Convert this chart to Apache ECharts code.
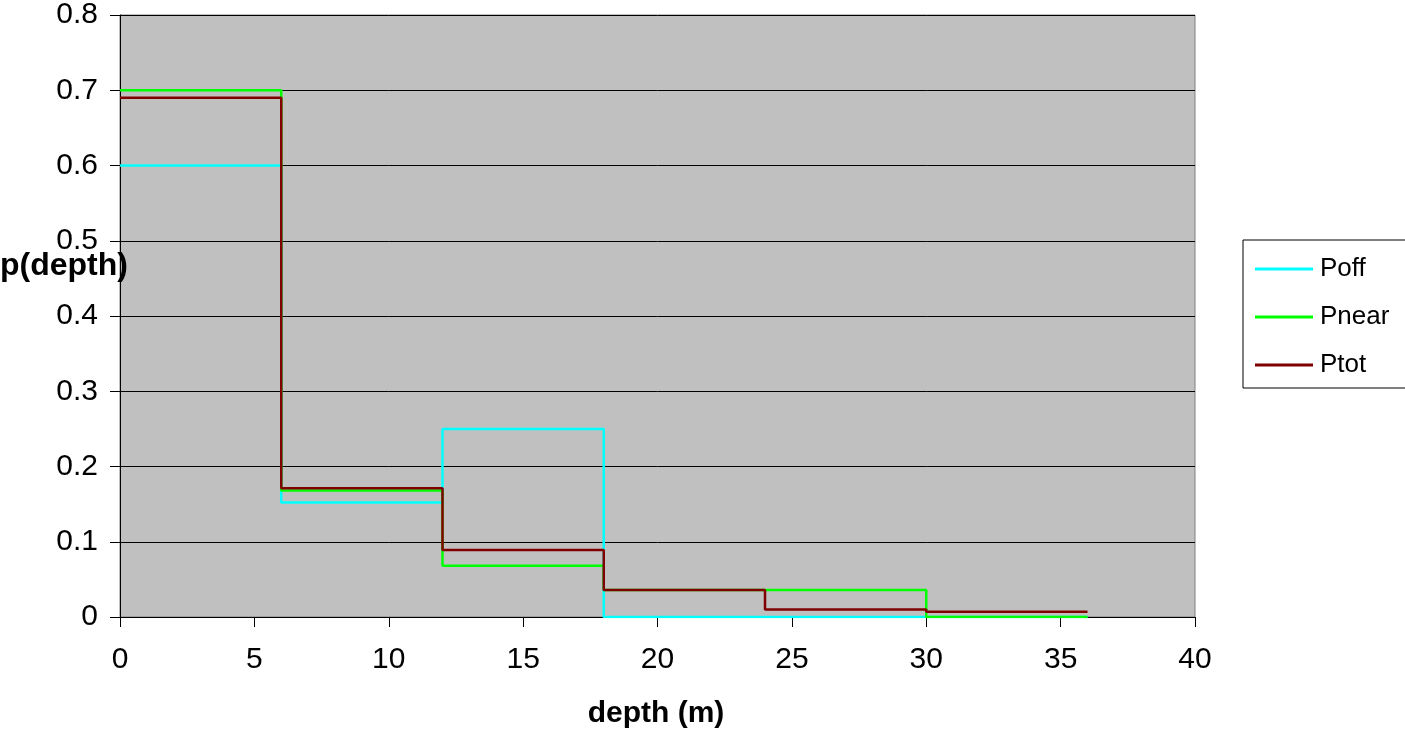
<!DOCTYPE html>
<html>
<head>
<meta charset="utf-8">
<script src="https://cdn.jsdelivr.net/npm/echarts@6/dist/echarts.min.js"></script>
<style>
html,body{margin:0;padding:0;background:#fff;}
#c{width:1405px;height:736px;}
</style>
</head>
<body>
<div id="c"></div>
<script>
// bin edges (depth, m) and step values per bin
var depthEdges = [0, 6, 12, 18, 24, 30, 36];
var poff  = [0.600, 0.152, 0.250, 0.000, 0.000, 0.000];
var pnear = [0.700, 0.168, 0.068, 0.036, 0.036, 0.000];
var ptot  = [0.690, 0.171, 0.089, 0.036, 0.010, 0.007];
var seriesNames = ['Poff', 'Pnear', 'Ptot'];
var seriesColors = ['#00FFFF', '#00FF00', '#800000'];
var xTitle = 'depth (m)';
var yTitle = 'p(depth)';

function stepPoints(vals) {
  var pts = [];
  for (var i = 0; i < vals.length; i++) pts.push([depthEdges[i], vals[i]]);
  pts.push([depthEdges[depthEdges.length - 1], vals[vals.length - 1]]);
  return pts;
}
var allVals = [poff, pnear, ptot];

var chart = echarts.init(document.getElementById('c'), null, {renderer: 'canvas'});
var font = 'Liberation Sans, Arial, sans-serif';
chart.setOption({
  animation: false,
  backgroundColor: '#ffffff',
  grid: {
    left: 120, right: 210, top: 13, bottom: 119,
    show: true, backgroundColor: '#C0C0C0', borderColor: '#808080', borderWidth: 1
  },
  legend: {
    orient: 'vertical',
    left: 1243, top: 240,
    padding: [16, 60, 10, 12],
    itemGap: 22,
    itemWidth: 58, itemHeight: 3,
    icon: 'rect',
    borderColor: '#000', borderWidth: 1,
    backgroundColor: '#fff',
    textStyle: {fontFamily: font, fontSize: 26, color: '#000', padding: [0, 0, 0, 2]},
    data: seriesNames
  },
  xAxis: {
    type: 'value', min: 0, max: 40, interval: 5,
    axisLine: {show: true, lineStyle: {color: '#000', width: 1}},
    axisTick: {show: true, length: 10, lineStyle: {color: '#000'}},
    axisLabel: {fontFamily: font, fontSize: 30, color: '#000', margin: 28},
    splitLine: {show: false}
  },
  yAxis: {
    type: 'value', min: 0, max: 0.8, interval: 0.1,
    axisLine: {show: true, lineStyle: {color: '#000', width: 1}},
    axisTick: {show: true, length: 10, lineStyle: {color: '#000'}},
    axisLabel: {fontFamily: font, fontSize: 30, color: '#000', margin: 22},
    splitLine: {show: true, lineStyle: {color: '#000', width: 1}}
  },
  graphic: [{
    type: 'text', x: 0, y: 266,
    style: {text: yTitle, fontFamily: font, fontSize: 32, fontWeight: 'bold', fill: '#000',
            align: 'left', verticalAlign: 'middle'}
  }, {
    type: 'text', x: 656, y: 714,
    style: {text: xTitle, fontFamily: font, fontSize: 30, fontWeight: 'bold', fill: '#000',
            align: 'center', verticalAlign: 'middle'}
  }],
  series: seriesNames.map(function (n, i) {
    return {
      name: n, type: 'line', step: 'end', symbol: 'none',
      data: stepPoints(allVals[i]),
      lineStyle: {color: seriesColors[i], width: 2.5},
      itemStyle: {color: seriesColors[i]},
      z: 2 + i
    };
  })
});
</script>
</body>
</html>
